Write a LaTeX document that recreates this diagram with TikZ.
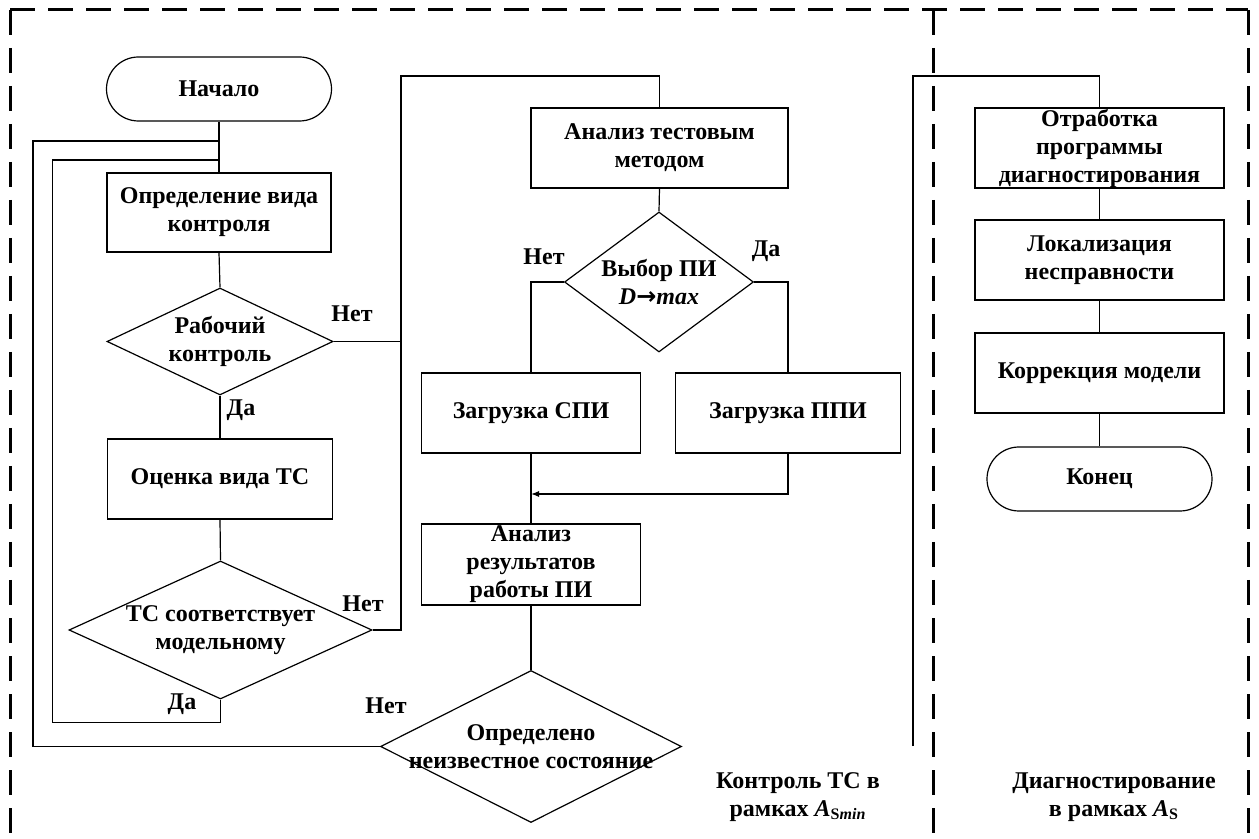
\documentclass[tikz,border=0pt]{standalone}
\usepackage{fontspec}
\setmainfont{Liberation Serif}
\newfontfamily\arrowfont{DejaVu Sans}
\usetikzlibrary{shapes.geometric,arrows.meta}
\begin{document}
\begin{tikzpicture}[x=0.5pt,y=-0.5pt,
  every node/.style={font=\fontsize{12}{14}\selectfont\bfseries},
  ln/.style={line width=0.6pt},
  box/.style={draw, line width=0.6pt, rectangle, inner sep=0pt, align=center},
  term/.style={box, rounded corners=16pt},
  dia/.style={draw, line width=0.6pt, diamond, inner sep=0pt},
  txt/.style={align=center, inner sep=0pt},
  frame/.style={line width=1.5pt, dash pattern=on 12.5pt off 6.5pt},
  arr/.style={ln, -{Latex[length=4pt,width=3pt]}},
]
\useasboundingbox (0,0) rectangle (1259,839);

% dashed frame
\draw[frame] (10,10) -- (1248,10);
\draw[frame] (10,10) -- (10,839);
\draw[frame] (1248,10) -- (1248,839);
\draw[frame] (933,10) -- (933,839);

% left column
\node[term, minimum width=112.5pt, minimum height=32pt] (start) at (219,89) {Начало};
\node[box, minimum width=112pt, minimum height=39.5pt] (def) at (219,212.5) {Определение вида\\контроля};
\node[dia, minimum width=113pt, minimum height=53.5pt] (d1) at (220,341.5) {};
\node[txt] at (d1) {Рабочий\\контроль};
\node[box, minimum width=112.5pt, minimum height=40pt] (est) at (220,479) {Оценка вида ТС};
\node[dia, minimum width=151.5pt, minimum height=69pt] (d2) at (220.5,630) {};
\node[txt] at (d2) {ТС соответствует\\модельному};

% middle column
\node[box, minimum width=128.5pt, minimum height=40pt] (at) at (659.5,148) {Анализ тестовым\\методом};
\node[dia, minimum width=94.5pt, minimum height=70pt] (d3) at (659,282) {};
\node[txt] at (d3) {Выбор ПИ\\{\itshape D}{\arrowfont\bfseries →}{\itshape max}};
\node[box, minimum width=109.5pt, minimum height=40pt] (spi) at (531,413) {Загрузка СПИ};
\node[box, minimum width=112.5pt, minimum height=40pt] (ppi) at (788,413) {Загрузка ППИ};
\node[box, minimum width=109.5pt, minimum height=40.5pt] (an) at (531,564.5) {Анализ\\результатов\\работы ПИ};
\node[dia, minimum width=150.5pt, minimum height=76pt] (d4) at (531,746.5) {};
\node[txt] at (d4) {Определено\\неизвестное состояние};

% right column
\node[box, minimum width=124.5pt, minimum height=40pt] (otr) at (1099.5,148) {Отработка\\программы\\диагностирования};
\node[box, minimum width=124.5pt, minimum height=40pt] (lok) at (1099.5,260) {Локализация\\несправности};
\node[box, minimum width=124.5pt, minimum height=40pt] (kor) at (1099.5,373) {Коррекция модели};
\node[term, minimum width=112.5pt, minimum height=32pt] (end) at (1099.5,479) {Конец};

% junctions
\coordinate (j1) at (219,141);
\coordinate (j2) at (219,160);
\coordinate (bus) at (401,76);
\coordinate (merge) at (531,494);
\coordinate (free) at (913,746);
\coordinate (top2) at (913,76);

% connectors
\draw[ln] (start.south) -- (def.north);
\draw[ln] (def.south) -- (d1.north);
\draw[ln] (d1.south) -- (est.north);
\draw[ln] (est.south) -- (d2.north);
\draw[ln] (d2.south) -- ++(0,23) -- ++(-168,0) |- (j2);
\draw[ln] (d4.west) -- ++(-347,0) |- (j1);
\draw[ln] (d2.east) -| (bus) -| (at.north);
\draw[ln] (d1.east) -- (d1.east -| bus);
\draw[ln] (at.south) -- (d3.north);
\draw[ln] (d3.west) -| (spi.north);
\draw[ln] (d3.east) -| (ppi.north);
\draw[ln] (spi.south) -- (an.north);
\draw[arr] (ppi.south) |- (merge);
\draw[ln] (an.south) -- (d4.north);
\draw[ln] (free) -- (top2) -| (otr.north);
\draw[ln] (otr.south) -- (lok.north);
\draw[ln] (lok.south) -- (kor.north);
\draw[ln] (kor.south) -- (end.north);

% branch labels
\node[txt] (l1) at (352,314) {Нет};
\node[txt] (l2) at (241,410) {Да};
\node[txt] (l3) at (363,604) {Нет};
\node[txt] (l4) at (182,704) {Да};
\node[txt] (l5) at (386,706) {Нет};
\node[txt] (l6) at (544,257) {Нет};
\node[txt] (l7) at (766,251) {Да};

% region captions
\node[txt] (cap1) at (798,797) {Контроль ТС в\\рамках {\itshape A}\textsubscript{S\itshape min}};
\node[txt] (cap2) at (1114,797) {Диагностирование\\в рамках {\itshape A}\textsubscript{S}};
\end{tikzpicture}
\end{document}
